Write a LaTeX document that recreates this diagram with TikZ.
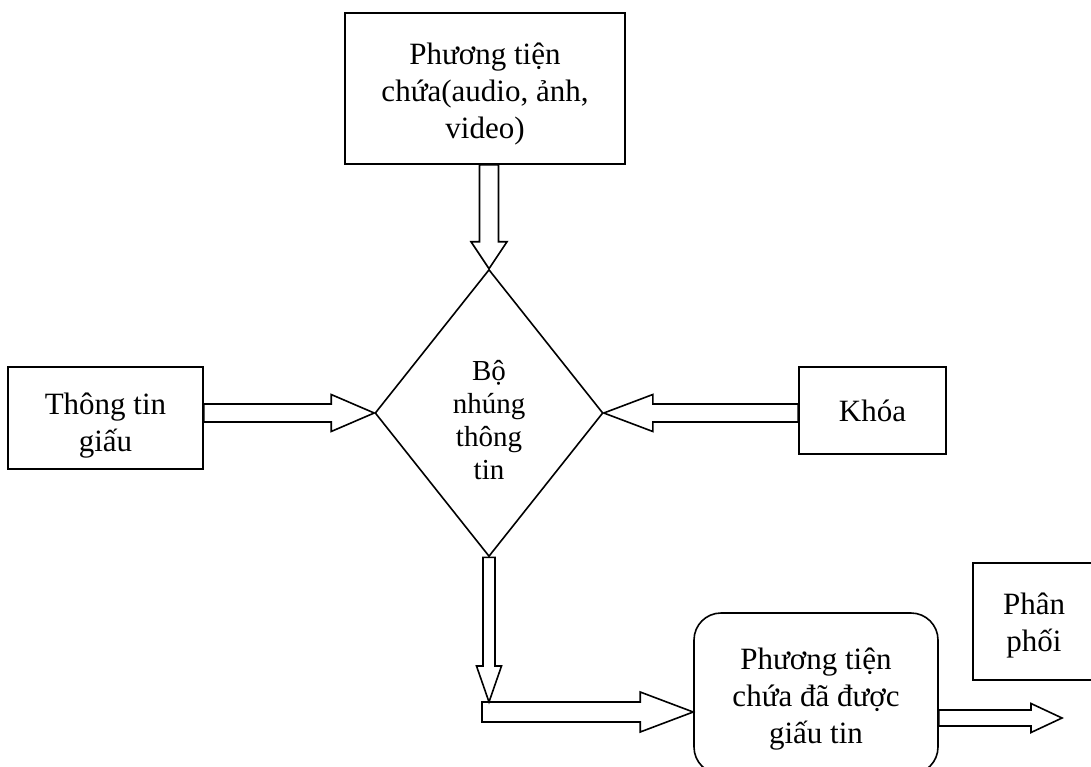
\documentclass[tikz,border=0pt]{standalone}
\usepackage{fontspec}
\setmainfont{Liberation Serif}
\usetikzlibrary{shapes.geometric,calc}

% hollow block arrow: shaft half width, head half width, head length, from, to
\newcommand{\blockedge}[5]{%
  \coordinate (hb) at ($(#5)!#3!(#4)$);
  \draw ($(#4)!#1!90:(#5)$) -- ($(hb)!#1!90:(#5)$) -- ($(hb)!#2!90:(#5)$) -- (#5)
    -- ($(hb)!#2!-90:(#5)$) -- ($(hb)!#1!-90:(#5)$) -- ($(#4)!#1!-90:(#5)$) -- cycle;
}
% taller first line, so the text sits a little lower in its box
\newcommand{\lowtext}[1]{\rule{0pt}{#1}}

\begin{document}
\begin{tikzpicture}[x=1pt, y=-1pt, line width=1.6pt,
  textbox/.style={draw, rectangle, align=center, inner sep=0pt, font=\fontsize{31}{37}\selectfont}]
  \useasboundingbox (0,0) rectangle (1091,767);
  \node[textbox, minimum width=280pt, minimum height=151pt] (media) at (485,88.5) {\lowtext{32pt}Phương tiện\\chứa(audio, ảnh,\\video)};
  \node[diamond, draw, minimum width=228pt, minimum height=287pt, inner sep=0pt, align=center,
    font=\fontsize{29}{33}\selectfont] (embed) at (489,413) {\lowtext{34pt}Bộ\\nhúng\\thông\\tin};
  \node[textbox, minimum width=195pt, minimum height=102pt] (secret) at (105.5,418) {\lowtext{36pt}Thông tin\\giấu};
  \node[textbox, minimum width=147pt, minimum height=87pt] (key) at (872.5,410.5) {Khóa};
  \node[textbox, rounded corners=27pt, minimum width=244pt, minimum height=161pt] (stego) at (816,693.5) {\lowtext{32pt}Phương tiện\\chứa đã được\\giấu tin};
  \node[textbox, minimum width=122pt, minimum height=117pt] (dist) at (1034,621.5) {\lowtext{30pt}Phân\\phối};
  \coordinate (turn) at (489,702);
  \coordinate (bend) at (482,712);
  \coordinate (out) at (1062,718);
  \blockedge{9.5pt}{18pt}{27pt}{media.south -| embed.north}{embed.north}
  \blockedge{9pt}{18.5pt}{43pt}{secret.east |- embed.west}{embed.west}
  \blockedge{9pt}{18.5pt}{49pt}{key.west |- embed.east}{embed.east}
  \blockedge{6pt}{12.5pt}{36pt}{embed.south}{turn}
  \blockedge{10pt}{20pt}{53pt}{bend}{stego.west |- bend}
  \blockedge{8pt}{14.5pt}{31pt}{stego.east |- out}{out}
\end{tikzpicture}
\end{document}
